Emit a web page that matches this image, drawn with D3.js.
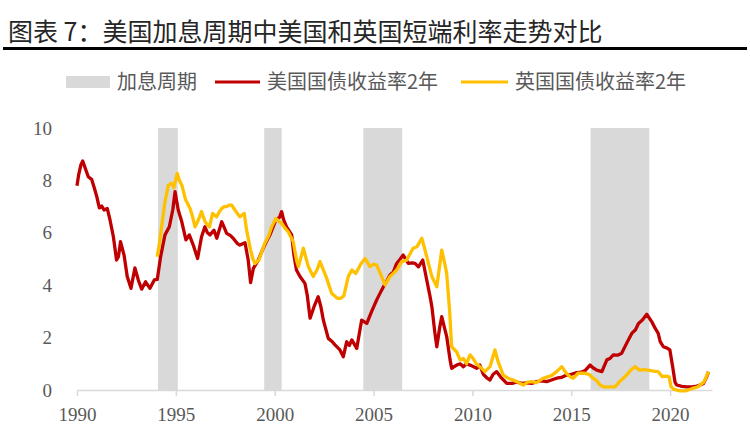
<!DOCTYPE html>
<html><head><meta charset="utf-8">
<script src="https://cdn.jsdelivr.net/npm/d3@7/dist/d3.min.js"></script>
<style>body{margin:0;background:#fff}svg{display:block}</style>
</head><body><svg id="c" width="750" height="441"></svg>
<script>
const title = "图表 7：美国加息周期中美国和英国短端利率走势对比";
const legendLabels = ["加息周期", "美国国债收益率2年", "英国国债收益率2年"];
const hikePeriods = [[1994.1, 1995.1], [1999.47, 2000.35], [2004.48, 2006.45], [2015.98, 2018.95]];
const xTicks = [1990, 1995, 2000, 2005, 2010, 2015, 2020];
const yTicks = [0, 2, 4, 6, 8, 10];
const usSeries = [
[1990.00,7.8],[1990.08,8.2],[1990.20,8.6],[1990.29,8.74],[1990.40,8.5],[1990.57,8.14],[1990.74,8.04],[1990.88,7.7],
[1991.00,7.38],[1991.13,6.95],[1991.25,7.02],[1991.37,6.87],[1991.53,6.93],[1991.67,6.49],[1991.84,5.85],[1992.00,4.96],
[1992.10,5.1],[1992.20,5.66],[1992.38,5.15],[1992.54,4.33],[1992.73,3.88],[1992.93,4.66],[1993.10,4.2],[1993.27,3.85],
[1993.47,4.13],[1993.69,3.88],[1993.91,4.2],[1994.06,4.22],[1994.23,5.09],[1994.45,5.92],[1994.67,6.23],[1994.85,6.9],
[1994.96,7.57],[1995.12,6.87],[1995.30,6.42],[1995.51,5.73],[1995.68,5.92],[1995.88,5.53],[1996.10,5.02],[1996.30,5.85],
[1996.47,6.23],[1996.60,6.0],[1996.73,5.92],[1996.93,6.1],[1997.07,5.79],[1997.32,6.42],[1997.45,6.2],[1997.57,5.98],
[1997.75,5.9],[1997.90,5.79],[1998.10,5.6],[1998.24,5.53],[1998.50,5.62],[1998.66,4.96],[1998.78,4.1],[1998.92,4.64],
[1999.17,4.96],[1999.42,5.41],[1999.60,5.7],[1999.76,5.92],[2000.06,6.49],[2000.25,6.6],[2000.35,6.81],[2000.45,6.5],
[2000.60,6.23],[2000.86,5.92],[2000.97,5.15],[2001.10,4.58],[2001.28,4.33],[2001.53,4.07],[2001.65,3.6],[2001.79,2.74],
[2001.99,3.18],[2002.20,3.56],[2002.33,3.2],[2002.46,2.67],[2002.71,1.97],[2002.90,1.85],[2003.05,1.72],[2003.30,1.53],
[2003.47,1.27],[2003.64,1.84],[2003.78,1.7],[2003.90,1.91],[2004.15,1.59],[2004.40,2.67],[2004.66,2.54],[2004.90,2.99],
[2005.16,3.44],[2005.30,3.65],[2005.50,3.94],[2005.70,4.2],[2005.83,4.39],[2006.00,4.5],[2006.17,4.83],[2006.35,5.0],
[2006.50,5.15],[2006.76,4.83],[2006.95,4.85],[2007.10,4.83],[2007.27,4.7],[2007.49,4.96],[2007.69,4.2],[2007.85,3.6],
[2007.95,3.18],[2008.10,2.2],[2008.20,1.65],[2008.35,2.4],[2008.45,2.8],[2008.58,2.4],[2008.70,2.04],[2008.87,1.15],
[2008.95,0.83],[2009.20,0.95],[2009.38,1.0],[2009.54,0.89],[2009.70,1.0],[2009.88,0.95],[2010.22,0.83],[2010.38,0.95],
[2010.55,0.6],[2010.75,0.45],[2010.89,0.38],[2011.05,0.6],[2011.23,0.7],[2011.48,0.45],[2011.74,0.25],[2012.00,0.25],
[2012.24,0.3],[2012.50,0.25],[2012.75,0.27],[2013.00,0.25],[2013.25,0.32],[2013.50,0.35],[2013.76,0.32],[2014.00,0.38],
[2014.26,0.45],[2014.50,0.48],[2014.77,0.57],[2015.00,0.6],[2015.28,0.66],[2015.50,0.68],[2015.70,0.74],[2015.95,0.95],
[2016.10,0.85],[2016.29,0.76],[2016.55,0.7],[2016.80,1.15],[2016.95,1.2],[2017.13,1.34],[2017.35,1.33],[2017.55,1.4],
[2017.80,1.78],[2018.06,2.16],[2018.25,2.3],[2018.40,2.54],[2018.60,2.67],[2018.82,2.89],[2019.07,2.61],[2019.25,2.35],
[2019.40,2.16],[2019.50,1.85],[2019.66,1.65],[2019.85,1.6],[2019.99,1.53],[2020.13,0.89],[2020.25,0.3],[2020.33,0.19],
[2020.60,0.14],[2020.84,0.12],[2021.10,0.12],[2021.35,0.15],[2021.55,0.2],[2021.69,0.25],[2021.85,0.5],[2021.94,0.7]
];
const ukSeries = [
[1994.06,5.09],[1994.17,5.6],[1994.28,6.23],[1994.45,7.19],[1994.62,7.82],[1994.79,7.89],[1994.90,7.73],[1995.07,8.27],
[1995.18,8.0],[1995.30,7.82],[1995.50,7.25],[1995.72,6.93],[1995.85,6.6],[1995.97,6.23],[1996.14,6.49],[1996.30,6.81],
[1996.48,6.42],[1996.60,6.3],[1996.70,6.23],[1996.86,6.74],[1997.06,6.61],[1997.20,6.8],[1997.32,6.93],[1997.45,7.0],
[1997.57,7.0],[1997.70,7.06],[1997.82,7.06],[1997.99,6.87],[1998.10,6.75],[1998.24,6.61],[1998.46,6.74],[1998.58,6.1],
[1998.78,5.34],[1998.90,5.0],[1999.00,4.83],[1999.20,4.96],[1999.50,5.6],[1999.70,5.9],[1999.85,6.23],[2000.06,6.55],
[2000.20,6.45],[2000.35,6.36],[2000.50,6.2],[2000.68,6.04],[2000.94,5.66],[2001.10,4.96],[2001.20,4.71],[2001.45,5.41],
[2001.70,4.71],[2001.95,4.33],[2002.15,4.6],[2002.29,4.9],[2002.45,4.6],[2002.63,4.26],[2002.88,3.69],[2003.17,3.5],
[2003.35,3.5],[2003.50,3.6],[2003.72,4.33],[2003.90,4.58],[2004.10,4.45],[2004.35,4.8],[2004.57,5.02],[2004.82,4.71],
[2005.00,4.8],[2005.16,4.77],[2005.41,4.33],[2005.58,4.01],[2005.83,4.33],[2006.00,4.45],[2006.17,4.58],[2006.42,4.9],
[2006.68,4.96],[2006.85,5.2],[2007.00,5.41],[2007.20,5.47],[2007.44,5.79],[2007.55,5.5],[2007.69,5.09],[2007.95,4.33],
[2008.10,4.1],[2008.20,3.94],[2008.45,5.34],[2008.58,4.9],[2008.70,4.45],[2008.85,3.0],[2008.95,1.65],[2009.20,1.46],
[2009.38,1.15],[2009.55,1.2],[2009.70,1.0],[2009.88,1.34],[2010.04,1.2],[2010.20,1.0],[2010.38,0.89],[2010.63,0.7],
[2010.89,0.89],[2011.14,1.53],[2011.30,1.08],[2011.56,0.57],[2011.80,0.45],[2012.00,0.4],[2012.24,0.32],[2012.57,0.19],
[2012.80,0.3],[2013.00,0.32],[2013.25,0.28],[2013.59,0.45],[2013.80,0.5],[2014.00,0.55],[2014.26,0.7],[2014.52,0.89],
[2014.75,0.64],[2014.95,0.5],[2015.10,0.45],[2015.35,0.64],[2015.65,0.64],[2015.90,0.6],[2016.10,0.45],[2016.30,0.35],
[2016.45,0.19],[2016.65,0.12],[2016.90,0.12],[2017.20,0.12],[2017.45,0.32],[2017.80,0.57],[2018.00,0.75],[2018.22,0.89],
[2018.45,0.76],[2018.70,0.78],[2018.95,0.75],[2019.15,0.72],[2019.40,0.7],[2019.60,0.51],[2019.80,0.53],[2019.95,0.5],
[2020.05,0.12],[2020.20,0.02],[2020.50,-0.03],[2020.80,-0.03],[2021.10,0.05],[2021.40,0.12],[2021.70,0.3],[2021.80,0.45],
[2021.94,0.7]
];

const svg = d3.select("#c");
const RED = "#C00000", GOLD = "#FFC000", GRAY = "#D9D9D9", TXT = "#595959";
const cjk = "'Noto Sans CJK SC', sans-serif";
const serif = "'Liberation Serif', 'Times New Roman', serif";

// title
svg.append("text").attr("x", 8).attr("y", 41).text(title)
  .attr("font-family", cjk).attr("font-size", 25).attr("fill", "#262626");
svg.append("line").attr("x1", 3).attr("x2", 747).attr("y1", 48.5).attr("y2", 48.5)
  .attr("stroke", "#000").attr("stroke-width", 3);

const x = d3.scaleLinear().domain([1990, 2022.12]).range([77, 712]);
const y = d3.scaleLinear().domain([0, 10]).range([390, 128]);

// hike periods
svg.append("g").selectAll("rect").data(hikePeriods).join("rect")
  .attr("x", d => x(d[0])).attr("width", d => x(d[1]) - x(d[0]))
  .attr("y", y(10)).attr("height", y(0) - y(10)).attr("fill", GRAY);

// x axis
const xa = svg.append("g").attr("transform", `translate(0,${y(0)})`)
  .call(d3.axisBottom(x).tickValues(xTicks).tickFormat(d3.format("d")).tickSize(6).tickSizeOuter(0).tickPadding(12));
xa.select(".domain").attr("stroke", GRAY).attr("stroke-width", 1.5);
xa.selectAll(".tick line").attr("stroke", GRAY).attr("stroke-width", 1.5);
xa.selectAll("text").attr("font-family", serif).attr("font-size", 19).attr("fill", TXT);

// y axis
const ya = svg.append("g").attr("transform", `translate(56,0)`)
  .call(d3.axisLeft(y).tickValues(yTicks).tickSize(0).tickPadding(4));
ya.select(".domain").remove();
ya.selectAll("text").attr("font-family", serif).attr("font-size", 19).attr("fill", TXT);

// lines
const line = d3.line().x(d => x(d[0])).y(d => y(d[1])).curve(d3.curveLinear);
svg.append("path").datum(usSeries).attr("d", line).attr("fill", "none")
  .attr("stroke", RED).attr("stroke-width", 3.3).attr("stroke-linejoin", "round");
svg.append("path").datum(ukSeries).attr("d", line).attr("fill", "none")
  .attr("stroke", GOLD).attr("stroke-width", 3.3).attr("stroke-linejoin", "round");

// legend
const lg = svg.append("g").attr("font-family", cjk).attr("font-size", 20).attr("fill", TXT);
lg.append("rect").attr("x", 66).attr("y", 76).attr("width", 44).attr("height", 12).attr("fill", GRAY);
lg.append("text").attr("x", 117).attr("y", 82).attr("dy", "0.35em").text(legendLabels[0]);
lg.append("line").attr("x1", 215).attr("x2", 260).attr("y1", 82).attr("y2", 82).attr("stroke", RED).attr("stroke-width", 3);
lg.append("text").attr("x", 267).attr("y", 82).attr("dy", "0.35em").text(legendLabels[1]);
lg.append("line").attr("x1", 461).attr("x2", 508).attr("y1", 82).attr("y2", 82).attr("stroke", GOLD).attr("stroke-width", 3);
lg.append("text").attr("x", 515).attr("y", 82).attr("dy", "0.35em").text(legendLabels[2]);
</script></body></html>
